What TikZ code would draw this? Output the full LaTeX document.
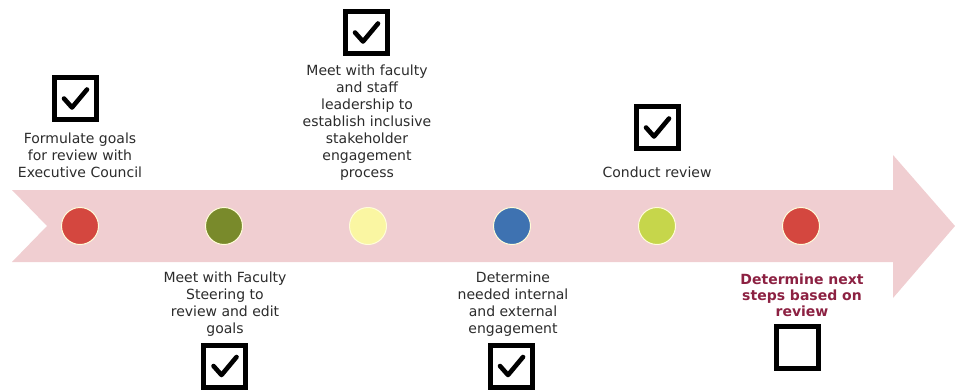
\documentclass[tikz,border=0pt]{standalone}
\usepackage{fontspec}
\setmainfont{DejaVu Sans}
\definecolor{arrowpink}{HTML}{F0CED1}
\definecolor{dotred}{HTML}{D4473F}
\definecolor{dotolive}{HTML}{798A2B}
\definecolor{dotpale}{HTML}{FAF6A2}
\definecolor{dotblue}{HTML}{3E72B1}
\definecolor{dotlime}{HTML}{C6D64B}
\definecolor{txtgray}{HTML}{2B2B2B}
\definecolor{txtred}{HTML}{8C2142}
\begin{document}
\begin{tikzpicture}[x=1pt,y=-1pt,
  dot/.style={circle,minimum size=37pt,inner sep=0pt,draw=white!85!yellow,line width=1pt},
  cbox/.style={rectangle,minimum size=42pt,inner sep=0pt,draw=black,line width=5pt,fill=white},
  lbl/.style={align=center,text=txtgray,font=\fontsize{14}{17}\selectfont,inner sep=0pt},
  tick/.style={line width=4.6pt,line cap=round,line join=round}]
\useasboundingbox (0,0) rectangle (955,391);
% arrow
\fill[arrowpink] (12,190) -- (893,190) -- (893,155) -- (955,226) -- (893,298) -- (893,262) -- (12,262) -- (47,226) -- cycle;
% dots
\node[dot,fill=dotred]   (c1) at (80,226) {};
\node[dot,fill=dotolive] (c2) at (224,226) {};
\node[dot,fill=dotpale]  (c3) at (368,226) {};
\node[dot,fill=dotblue]  (c4) at (512,226) {};
\node[dot,fill=dotlime]  (c5) at (657,226) {};
\node[dot,fill=dotred]   (c6) at (801,226) {};
% boxes
\node[cbox] (b1) at (75,98.5) {};
\node[cbox] (b2) at (366,32.5) {};
\node[cbox] (b3) at (224.5,366) {};
\node[cbox] (b4) at (511,366) {};
\node[cbox] (b5) at (657,127.5) {};
\node[cbox] (b6) at (797.5,347.5) {};
% ticks
\foreach \b in {b1,b2,b3,b4,b5}{
  \draw[tick] ([shift={(-11,0)}]\b.center) -- ([shift={(-3,9)}]\b.center) -- ([shift={(12,-9)}]\b.center);
}
% labels
\node[lbl] (t1) at (80,155) {Formulate goals\\for review with\\Executive Council};
\node[lbl] (t2) at (367,122.5) {Meet with faculty\\and staff\\leadership to\\establish inclusive\\stakeholder\\engagement\\process};
\node[lbl] (t5) at (657,172) {Conduct review};
\node[lbl] (t3) at (225,304) {Meet with Faculty\\Steering to\\review and edit\\goals};
\node[lbl] (t4) at (513,304) {Determine\\needed internal\\and external\\engagement};
\node[lbl,text=txtred,font=\fontsize{14}{16}\selectfont\bfseries] (t6) at (802,295) {Determine next\\steps based on\\review};
\end{tikzpicture}
\end{document}
